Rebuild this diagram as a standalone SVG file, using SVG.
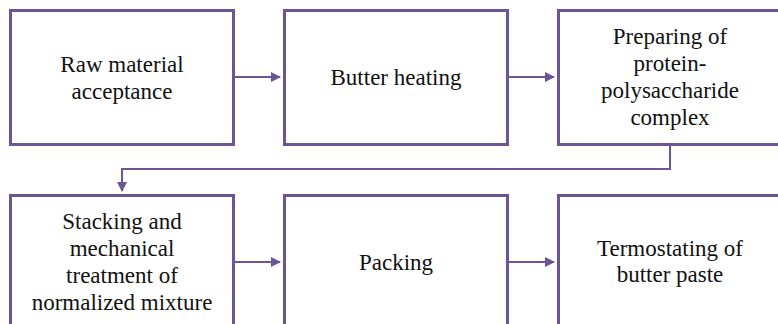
<svg xmlns="http://www.w3.org/2000/svg" width="778" height="324" viewBox="0 0 778 324">
<defs>
<marker id="ah" markerWidth="10" markerHeight="10" refX="9" refY="5" orient="auto" markerUnits="userSpaceOnUse">
<path d="M0,0 L10,5 L0,10 Z" fill="#6B5596"/>
</marker>
<style>
.box{fill:#fff;stroke:#6B5596;stroke-width:3}
.con{fill:none;stroke:#6B5596;stroke-width:2;marker-end:url(#ah)}
</style>
</defs>
<rect width="778" height="324" fill="#fff"/>
<g id="n1"><rect class="box" x="10.5" y="10.5" width="223" height="134"/>
<text x="122" y="72" style="font-family:'Liberation Serif',serif;font-size:23px;text-anchor:middle;fill:#111">Raw material</text><text x="122" y="99" style="font-family:'Liberation Serif',serif;font-size:23px;text-anchor:middle;fill:#111">acceptance</text></g>
<g id="n2"><rect class="box" x="284.5" y="10.5" width="223" height="134"/>
<text x="396" y="85" style="font-family:'Liberation Serif',serif;font-size:23px;text-anchor:middle;fill:#111">Butter heating</text></g>
<g id="n3"><rect class="box" x="558.5" y="10.5" width="223" height="134"/>
<text x="670" y="44" style="font-family:'Liberation Serif',serif;font-size:23px;text-anchor:middle;fill:#111">Preparing of</text><text x="670" y="71" style="font-family:'Liberation Serif',serif;font-size:23px;text-anchor:middle;fill:#111">protein-</text><text x="670" y="98" style="font-family:'Liberation Serif',serif;font-size:23px;text-anchor:middle;fill:#111">polysaccharide</text><text x="670" y="125" style="font-family:'Liberation Serif',serif;font-size:23px;text-anchor:middle;fill:#111">complex</text></g>
<g id="n4"><rect class="box" x="10.5" y="195.5" width="223" height="134"/>
<text x="122" y="229" style="font-family:'Liberation Serif',serif;font-size:23px;text-anchor:middle;fill:#111">Stacking and</text><text x="122" y="256" style="font-family:'Liberation Serif',serif;font-size:23px;text-anchor:middle;fill:#111">mechanical</text><text x="122" y="283" style="font-family:'Liberation Serif',serif;font-size:23px;text-anchor:middle;fill:#111">treatment of</text><text x="122" y="310" style="font-family:'Liberation Serif',serif;font-size:23px;text-anchor:middle;fill:#111">normalized mixture</text></g>
<g id="n5"><rect class="box" x="284.5" y="195.5" width="223" height="134"/>
<text x="396" y="270" style="font-family:'Liberation Serif',serif;font-size:23px;text-anchor:middle;fill:#111">Packing</text></g>
<g id="n6"><rect class="box" x="558.5" y="195.5" width="223" height="134"/>
<text x="670" y="256" style="font-family:'Liberation Serif',serif;font-size:23px;text-anchor:middle;fill:#111">Termostating of</text><text x="670" y="282" style="font-family:'Liberation Serif',serif;font-size:23px;text-anchor:middle;fill:#111">butter paste</text></g>
<g id="connectors">
<path class="con" d="M235,77 H280"/>
<path class="con" d="M509,77 H554"/>
<path class="con" d="M670,146 V169 H122 V191"/>
<path class="con" d="M235,262 H280"/>
<path class="con" d="M509,262 H554"/>
</g>
</svg>
